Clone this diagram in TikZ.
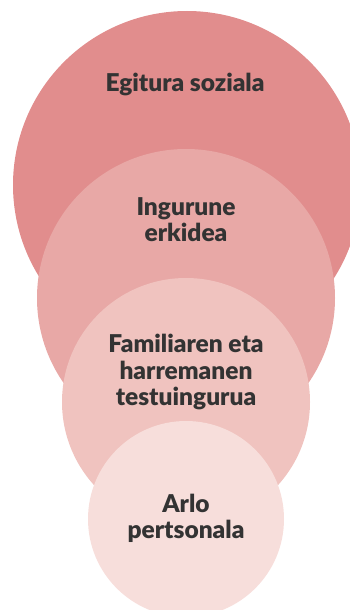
\documentclass[tikz,border=0pt]{standalone}
\usepackage{fontspec}
\setmainfont{Lato}[BoldFont={Lato Black}]
\definecolor{cA}{RGB}{225,141,141}
\definecolor{cB}{RGB}{232,168,166}
\definecolor{cC}{RGB}{240,195,191}
\definecolor{cD}{RGB}{247,222,219}
\definecolor{txt}{RGB}{51,51,51}
\tikzset{
  disc/.style={circle,draw=none,inner sep=0pt},
  lbl/.style={text=txt,font=\bfseries\fontsize{24.5}{26.5}\selectfont,align=center,inner sep=0pt}
}
\begin{document}
\begin{tikzpicture}[x=1pt,y=-1pt]
\useasboundingbox (0,0) rectangle (350,610);
\clip (0,0) rectangle (350,610);
\node[disc,fill=cA,minimum size=348pt] (c1) at (187,185) {};
\node[disc,fill=cB,minimum size=298pt] (c2) at (186,298) {};
\node[disc,fill=cC,minimum size=248pt] (c3) at (186,402) {};
\node[disc,fill=cD,minimum size=196pt] (c4) at (186,519) {};
\node[lbl] (t1) at (185,84.7) {Egitura soziala};
\node[lbl] (t2) at (186,219.5) {Ingurune\\erkidea};
\node[lbl] (t3) at (186,372) {Familiaren eta\\harremanen\\testuingurua};
\node[lbl] (t4) at (186,518.5) {Arlo\\pertsonala};
\end{tikzpicture}
\end{document}
